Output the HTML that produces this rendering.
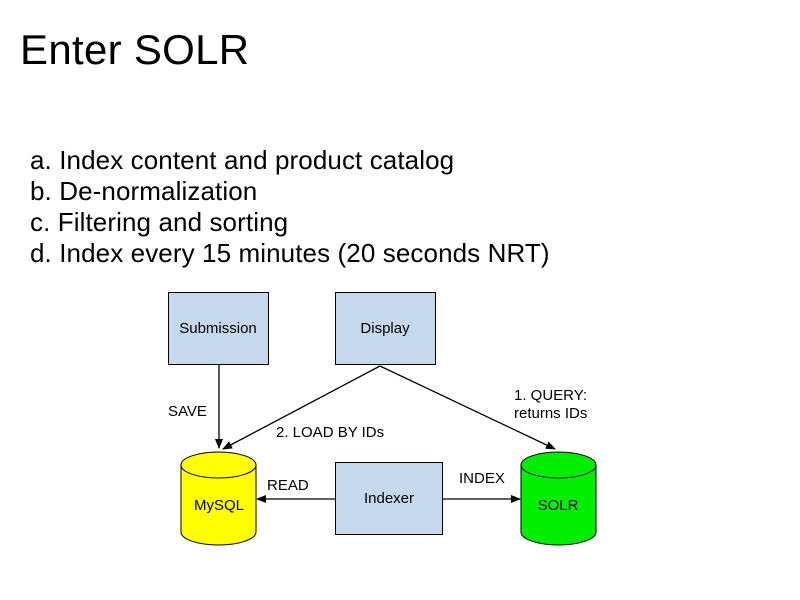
<!DOCTYPE html>
<html><head><style>
body{margin:0;width:800px;height:600px;background:#fff;overflow:hidden;font-family:"Liberation Sans",sans-serif;position:relative}
.t{position:absolute;white-space:nowrap;color:#000}
</style></head><body>
<div class="t" style="left:20px;top:26px;font-size:42px;letter-spacing:0.3px">Enter SOLR</div>
<div class="t" style="left:30px;top:145px;font-size:26px;line-height:31px;letter-spacing:0.1px">a. Index content and product catalog<br>b. De-normalization<br>c. Filtering and sorting<br>d. Index every 15 minutes (20 seconds NRT)</div>
<svg width="800" height="600" style="position:absolute;left:0;top:0" font-family="Liberation Sans, sans-serif" font-size="15">
<defs><marker id="a" markerWidth="10" markerHeight="8" refX="9" refY="4" orient="auto" markerUnits="userSpaceOnUse"><path d="M0,0L10,4L0,8z" fill="#000"/></marker></defs>
<rect x="168.5" y="292.5" width="100" height="72" fill="#c6d9ec" stroke="#000"/>
<rect x="335.5" y="292.5" width="100" height="72" fill="#c6d9ec" stroke="#000"/>
<rect x="335.5" y="462.5" width="107" height="72" fill="#c6d9ec" stroke="#000"/>
<text x="218" y="333" text-anchor="middle">Submission</text>
<text x="385" y="333" text-anchor="middle">Display</text>
<text x="389" y="503" text-anchor="middle">Indexer</text>
<path d="M181,465 V532 A37.5,13 0 0 0 256,532 V465" fill="#ffff00" stroke="#000"/>
<ellipse cx="218.5" cy="465" rx="37.5" ry="13" fill="#ffff00" stroke="#000"/>
<path d="M521,465 V532 A37.5,13 0 0 0 596,532 V465" fill="#00ee00" stroke="#000"/>
<ellipse cx="558.5" cy="465" rx="37.5" ry="13" fill="#00ee00" stroke="#000"/>
<text x="219" y="510" text-anchor="middle">MySQL</text>
<text x="558" y="510" text-anchor="middle">SOLR</text>
<g stroke="#000" stroke-width="1.3" fill="none">
<line x1="219" y1="365" x2="219" y2="448" marker-end="url(#a)"/>
<line x1="380" y1="366" x2="223" y2="449" marker-end="url(#a)"/>
<line x1="380" y1="366" x2="555" y2="449" marker-end="url(#a)"/>
<line x1="335" y1="499" x2="257" y2="499" marker-end="url(#a)"/>
<line x1="443" y1="499" x2="520" y2="499" marker-end="url(#a)"/>
</g>
<text x="168" y="416">SAVE</text>
<text x="276" y="437">2. LOAD BY IDs</text>
<text x="514" y="400">1. QUERY:</text>
<text x="514" y="418">returns IDs</text>
<text x="267" y="490">READ</text>
<text x="459" y="483">INDEX</text>
</svg>
</body></html>
